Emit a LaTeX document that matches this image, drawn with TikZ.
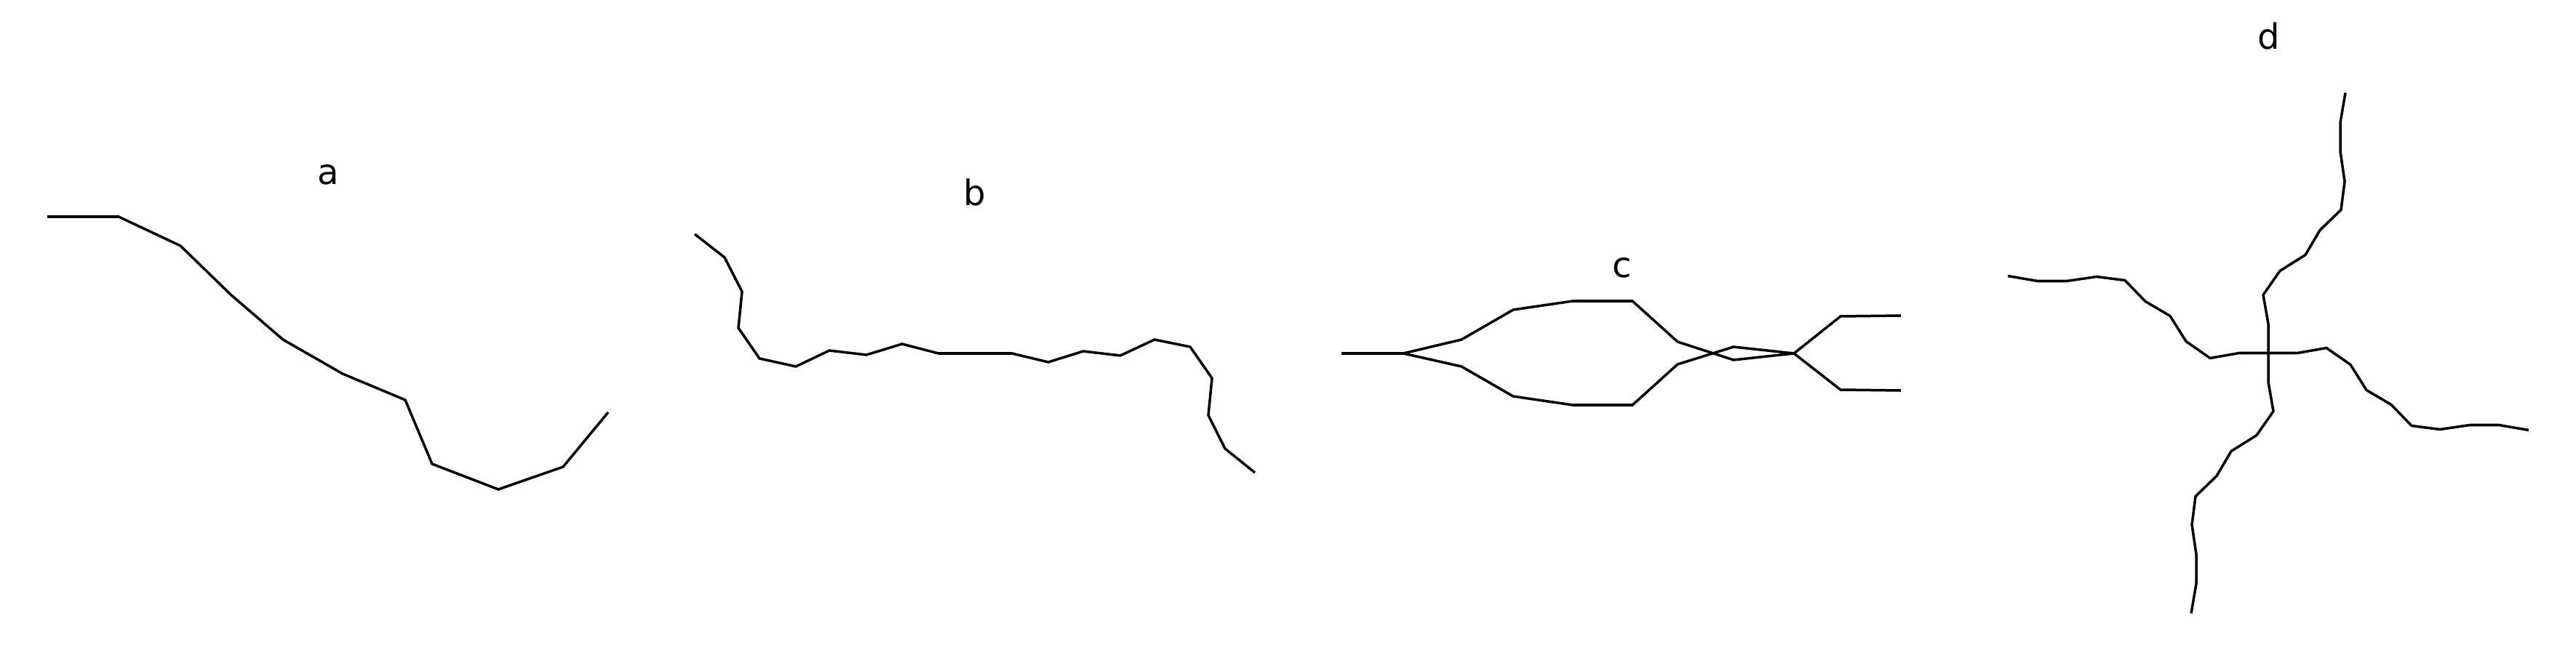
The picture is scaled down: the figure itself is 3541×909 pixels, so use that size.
\documentclass[tikz,border=0pt]{standalone}
\usepackage{fontspec}
\setmainfont{DejaVu Sans}
\usepackage{tikz}

\begin{document}
\begin{tikzpicture}[x=0.1mm, y=-0.1mm,
    trace/.style={line width=1pt, black},
    panel/.style={anchor=base, inner sep=0pt, font=\fontsize{13.7}{16}\selectfont}
  ]
  \useasboundingbox (0,0) rectangle (3541,909);

  % a: single walk
  \node[panel] (la) at (451,254) {a};
  \draw[trace] (65,298) -- (163,298) -- (248,338) -- (317,405) -- (389,467)
    -- (471,514) -- (557,550) -- (594,638) -- (685,673) -- (774,642) -- (836,567);

  % b: longer walk, point symmetric
  \node[panel] (lb) at (1340,283) {b};
  \draw[trace] (955,322) -- (996,354) -- (1020,401) -- (1015,451) -- (1044,493)
    -- (1094,504) -- (1140,482) -- (1191,488) -- (1240,473) -- (1290,486)
    -- (1391,486) -- (1441,498) -- (1489,483) -- (1540,489) -- (1587,467)
    -- (1636,477) -- (1666,520) -- (1661,571) -- (1684,617) -- (1725,650);

  % c: split and merge
  \node[panel] (lc) at (2230,382) {c};
  \coordinate (cin)  at (1929,486);
  \coordinate (cout) at (2466,486);
  \draw[trace] (1844,486) -- (cin);
  \draw[trace] (cin) -- (2009,467) -- (2080,426) -- (2162,414) -- (2244,414)
    -- (2306,470) -- (2383,495) -- (cout);
  \draw[trace] (cin) -- (2009,504) -- (2080,545) -- (2162,557) -- (2244,557)
    -- (2306,501) -- (2383,477) -- (cout);
  \draw[trace] (cout) -- (2530,435) -- (2613,434);
  \draw[trace] (cout) -- (2530,536) -- (2613,537);

  % d: four arms from one centre
  \node[panel] (ld) at (3119,68) {d};
  \coordinate (dc) at (3118,485.5);
  \begin{scope}[shift={(dc)}]
    \foreach \r in {0,90,180,270}
      \draw[trace, rotate=\r] (0,0) -- (0,-40) -- (-7,-80) -- (16,-113) -- (51,-135)
        -- (71,-169) -- (100,-197) -- (105,-236) -- (99,-277) -- (99,-317) -- (106,-358);
  \end{scope}
\end{tikzpicture}
\end{document}
